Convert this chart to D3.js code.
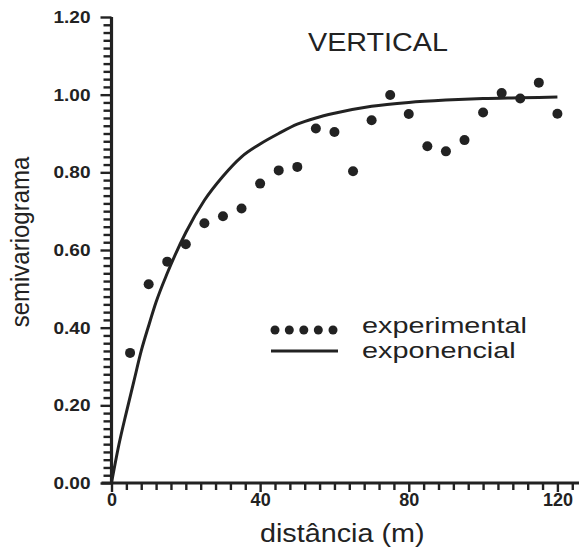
<!DOCTYPE html>
<html>
<head>
<meta charset="utf-8">
<script src="https://cdn.jsdelivr.net/npm/d3@7"></script>
<style>
  html, body { margin: 0; padding: 0; background: #fff; }
  svg { display: block; }
  text { font-family: "Liberation Sans", Arial, Helvetica, sans-serif; fill: #222; }
</style>
</head>
<body>
<script>
// ---- data ----
const distances = [5, 10, 15, 20, 25, 30, 35, 40, 45, 50, 55, 60, 65, 70, 75, 80, 85, 90, 95, 100, 105, 110, 115, 120];
const semivariance = [0.335, 0.512, 0.570, 0.615, 0.669, 0.687, 0.707, 0.771, 0.805, 0.814, 0.913, 0.904, 0.803, 0.934, 0.999, 0.950, 0.867, 0.854, 0.883, 0.954, 1.004, 0.990, 1.031, 0.951];
const modelDistances = [0, 2, 4, 6, 8, 10, 12, 15, 20, 25, 30, 35, 40, 45, 50, 55, 60, 70, 80, 90, 100, 110, 120];
const modelValues = [0.0, 0.099, 0.182, 0.261, 0.34, 0.405, 0.466, 0.54, 0.645, 0.728, 0.79, 0.84, 0.873, 0.90, 0.924, 0.94, 0.952, 0.97, 0.98, 0.986, 0.99, 0.992, 0.994];
const yTicks = [0, 0.2, 0.4, 0.6, 0.8, 1.0, 1.2];
const xTicks = [0, 40, 80, 120];
const yMinorTicks = [0.02,0.04,0.06,0.08,0.10,0.12,0.14,0.16,0.18,0.22,0.24,0.26,0.28,0.30,0.32,0.34,0.36,0.38,0.42,0.44,0.46,0.48,0.50,0.52,0.54,0.56,0.58,0.62,0.64,0.66,0.68,0.70,0.72,0.74,0.76,0.78,0.82,0.84,0.86,0.88,0.90,0.92,0.94,0.96,0.98,1.02,1.04,1.06,1.08,1.10,1.12,1.14,1.16,1.18];
const xMinorTicks = [4,8,12,16,20,24,28,32,36,44,48,52,56,60,64,68,72,76,84,88,92,96,100,104,108,112,116,124];
const titleText = "VERTICAL";
const xLabel = "distância (m)";
const yLabel = "semivariograma";
const legendLabels = ["experimental", "exponencial"];

const W = 579, H = 553;
const ink = "#222";
const svg = d3.select("body").append("svg").attr("width", W).attr("height", H);

const x = d3.scaleLinear().domain([0, 126]).range([111.5, 579.7]);
const y = d3.scaleLinear().domain([0, 1.2]).range([483, 17]);

// all y ticks (minor + major) in one d3 axis; majors made longer afterwards
const allY = yTicks.concat(yMinorTicks);
const yAx = svg.append("g").attr("transform", `translate(${x(0)},0)`)
  .call(d3.axisLeft(y).tickValues(allY).tickSize(8).tickPadding(13)
    .tickFormat(d => yTicks.includes(d) ? d3.format(".2f")(d) : null));
yAx.select(".domain").attr("stroke", ink).attr("stroke-width", 3.2).attr("d", `M0,${y(1.2)}V${y(0)}`);
yAx.selectAll(".tick line").attr("stroke", ink).attr("stroke-width", 2.4)
  .attr("x2", d => yTicks.includes(d) ? -11 : -8);
yAx.selectAll(".tick text")
  .attr("font-size", 17).attr("font-weight", "bold").attr("fill", ink)
  .attr("transform", "translate(-21,0) scale(1.12,1)")
  .attr("x", 0);

const allX = xTicks.concat(xMinorTicks);
const xAx = svg.append("g").attr("transform", `translate(0,${y(0)})`)
  .call(d3.axisBottom(x).tickValues(allX).tickSize(7).tickPadding(3)
    .tickFormat(d => xTicks.includes(d) ? d3.format("d")(d) : null));
xAx.select(".domain").attr("stroke", ink).attr("stroke-width", 3.2).attr("d", `M${x(0) - 10},0H${W}`);
xAx.selectAll(".tick line").attr("stroke", ink).attr("stroke-width", 2.4)
  .attr("y2", d => xTicks.includes(d) ? 9 : 7);
xAx.selectAll(".tick text").attr("font-size", 18).attr("font-weight", "bold").attr("fill", ink);

// model curve
const line = d3.line().x((d, i) => x(modelDistances[i])).y(d => y(d)).curve(d3.curveMonotoneX);
svg.append("path").datum(modelValues).attr("d", line)
  .attr("fill", "none").attr("stroke", ink).attr("stroke-width", 3);

// experimental points
svg.append("g").selectAll("circle").data(semivariance).join("circle")
  .attr("cx", (d, i) => x(distances[i])).attr("cy", d => y(d)).attr("r", 5).attr("fill", ink);

// title
svg.append("text").attr("transform", "translate(378,51) scale(1.15,1)")
  .attr("text-anchor", "middle").attr("font-size", 25).text(titleText);

// axis labels
svg.append("text").attr("transform", "translate(260,542) scale(1.15,1)")
  .attr("font-size", 25).text(xLabel);
svg.append("text").attr("transform", "translate(28.5,242) rotate(-90) scale(1,1.08)")
  .attr("text-anchor", "middle").attr("font-size", 24).text(yLabel);

// legend
const lg = svg.append("g");
const legendDots = [275, 289.3, 303.8, 318.3, 333];
lg.selectAll("circle").data(legendDots).join("circle")
  .attr("cx", d => d).attr("cy", 330).attr("r", 4.5).attr("fill", ink);
lg.append("line").attr("x1", 271).attr("x2", 338).attr("y1", 351).attr("y2", 351)
  .attr("stroke", ink).attr("stroke-width", 3);
lg.append("text").attr("transform", "translate(362,333) scale(1.28,1)")
  .attr("font-size", 22.5).text(legendLabels[0]);
lg.append("text").attr("transform", "translate(362,358) scale(1.28,1)")
  .attr("font-size", 22.5).text(legendLabels[1]);
</script>
</body>
</html>
